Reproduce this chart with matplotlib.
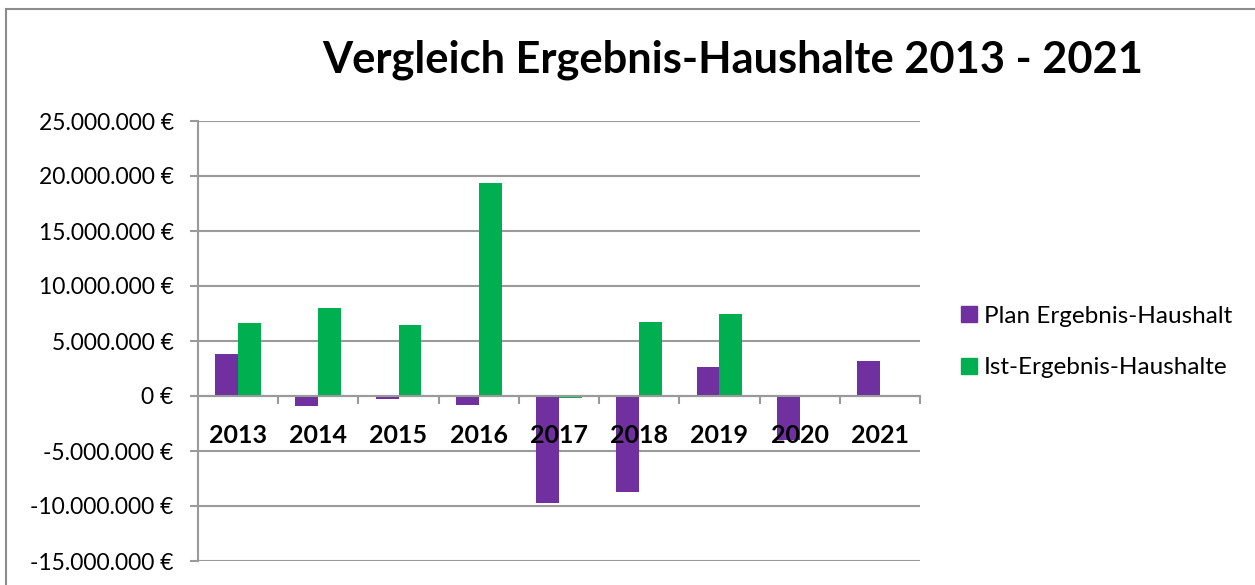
import numpy as np
import matplotlib
matplotlib.use('Agg')
import matplotlib.pyplot as plt
from matplotlib.patches import Rectangle, Patch
from matplotlib.ticker import FuncFormatter, FixedLocator

# --- data ---
years = ['2013', '2014', '2015', '2016', '2017', '2018', '2019', '2020', '2021']
plan = [3850000, -900000, -270000, -820000, -9750000, -8720000, 2670000, -4030000, 3200000]
ist = [6670000, 7970000, 6500000, 19330000, -150000, 6700000, 7420000, np.nan, np.nan]
series_names = ['Plan Ergebnis-Haushalt', 'Ist-Ergebnis-Haushalte']
title = 'Vergleich Ergebnis-Haushalte 2013 - 2021'

PURPLE = '#7030A0'
GREEN = '#00B050'
GRAY = '#9A9A9A'

plt.rcParams['font.family'] = ['Lato', 'DejaVu Sans']

W, H = 1255, 585
fig = plt.figure(figsize=(W / 100, H / 100), dpi=100)
ax = fig.add_axes([198 / W, (H - 561) / H, (920 - 198) / W, (561 - 121) / H])

x = np.arange(len(years))
bw = 1 / 3.5
ax.bar(x - bw / 2, plan, bw, color=PURPLE, zorder=3)
ax.bar(x + bw / 2, ist, bw, color=GREEN, zorder=3)

ax.set_xlim(-0.5, len(years) - 0.5)
ax.set_ylim(-15000000, 25000000)
ax.yaxis.set_major_locator(FixedLocator(np.arange(-15000000, 25000001, 5000000)))
ax.yaxis.set_major_formatter(FuncFormatter(lambda v, p: f"{v:,.0f} €".replace(',', '.')))
ax.grid(axis='y', color=GRAY, lw=1.5, zorder=0)
ax.set_axisbelow(True)

for s in ['top', 'right']:
    ax.spines[s].set_visible(False)
ax.spines['left'].set_color(GRAY)
ax.spines['left'].set_linewidth(1.5)
ax.spines['bottom'].set_position(('data', 0))
ax.spines['bottom'].set_color(GRAY)
ax.spines['bottom'].set_linewidth(1.5)
ax.spines['bottom'].set_zorder(4)

ax.tick_params(axis='y', length=6, width=1.5, color=GRAY, pad=11.5, labelsize=16.5)
ax.set_xticks(np.arange(0.5, len(years) - 0.4, 1))
ax.tick_params(axis='x', direction='out', length=6, width=1.5, color=GRAY, labelbottom=False)

for i, yr in enumerate(years):
    ax.annotate(yr, xy=(i, 0), xytext=(0, -34), textcoords='offset points',
                ha='center', va='baseline', fontsize=18, fontweight='bold', zorder=6)

fig.text(733 / W, 1 - 72 / H, title, ha='center', va='baseline',
         fontsize=31.2, fontweight='bold')

handles = [Patch(color=PURPLE), Patch(color=GREEN)]
fig.legend(handles, series_names, loc='center left', bbox_to_anchor=(961 / W, 1 - 342 / H),
           frameon=False, fontsize=17.5, handlelength=0.65, handleheight=0.65,
           handletextpad=0.3, labelspacing=1.25, borderpad=0, borderaxespad=0)

fig.patches.append(Rectangle((6 / W, -0.1), 1.2, 1 - 9 / H + 0.1, transform=fig.transFigure,
                             fill=False, edgecolor='#8C8C8C', lw=1.5, clip_on=False))

fig.savefig('out.png', dpi=100)
